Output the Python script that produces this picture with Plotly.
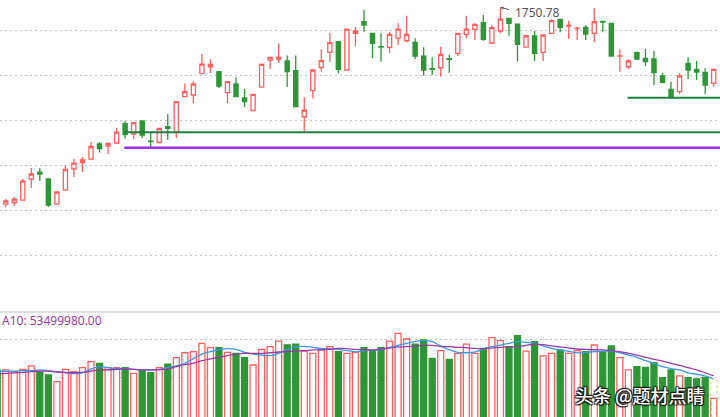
import plotly.graph_objects as go

# OHLC values (85 trading days)
open_ = [1326.7, 1313.3, 1316.7, 1322.2, 1368.9, 1384.4, 1368.9, 1313.3, 1344.4, 1391.1,
         1405.6, 1413.3, 1446.7, 1442.2, 1448.9, 1492.2, 1468.9, 1497.8, 1453.3, 1450.0,
         1485.1, 1473.3, 1551.8, 1555.6, 1603.3, 1618.4, 1607.3, 1560.7, 1580.0, 1548.9,
         1521.1, 1573.3, 1633.3, 1635.6, 1631.1, 1609.6, 1507.3, 1565.1, 1616.7, 1650.4,
         1674.0, 1611.1, 1692.7, 1718.4, 1692.7, 1663.3, 1661.6, 1682.2, 1676.2, 1672.7,
         1642.2, 1614.0, 1616.2, 1636.2, 1648.2, 1690.4, 1701.6, 1716.2, 1671.1, 1697.8,
         1726.0, 1713.3, 1662.2, 1686.7, 1650.4, 1692.7, 1723.8, 1708.9, 1703.3, 1706.0,
         1692.7, 1718.9, 1714.9, 1641.8, 1618.4, 1649.6, 1637.1, 1635.6, 1597.8, 1568.2,
         1562.9, 1626.0, 1612.7, 1606.0, 1581.6]
high = [1331.1, 1324.4, 1328.9, 1368.9, 1393.3, 1393.3, 1368.9, 1340.0, 1400.0, 1413.3,
        1417.8, 1451.1, 1451.1, 1450.0, 1482.2, 1497.8, 1495.6, 1498.9, 1473.3, 1482.2,
        1513.3, 1541.1, 1581.1, 1586.7, 1646.7, 1634.9, 1608.9, 1585.6, 1594.4, 1568.9,
        1557.8, 1625.6, 1640.0, 1670.0, 1643.3, 1643.3, 1550.4, 1612.2, 1657.1, 1694.0,
        1674.4, 1703.3, 1706.7, 1744.4, 1693.3, 1692.7, 1696.2, 1714.9, 1731.8, 1681.6,
        1661.6, 1639.3, 1662.9, 1645.1, 1693.3, 1731.8, 1714.9, 1733.3, 1711.1, 1750.78,
        1726.7, 1714.4, 1690.0, 1697.8, 1689.6, 1724.4, 1724.4, 1720.7, 1707.3, 1711.1,
        1748.2, 1718.9, 1715.6, 1657.1, 1634.9, 1652.2, 1657.8, 1653.3, 1605.1, 1585.1,
        1603.8, 1639.3, 1631.1, 1614.9, 1614.9]
low = [1308.9, 1306.7, 1308.9, 1322.2, 1348.9, 1364.4, 1306.7, 1313.3, 1344.4, 1373.3,
       1384.4, 1413.3, 1427.8, 1424.4, 1448.9, 1458.9, 1457.8, 1460.0, 1440.0, 1450.0,
       1455.6, 1460.0, 1551.1, 1537.8, 1602.2, 1604.4, 1571.1, 1537.8, 1551.1, 1528.9,
       1520.0, 1573.3, 1613.3, 1626.7, 1573.3, 1528.9, 1473.3, 1547.8, 1607.3, 1628.9,
       1603.8, 1610.0, 1663.3, 1695.6, 1637.1, 1629.6, 1648.2, 1666.7, 1672.7, 1635.6,
       1598.5, 1600.0, 1596.2, 1605.1, 1642.2, 1681.6, 1677.8, 1676.2, 1668.2, 1692.7,
       1687.3, 1630.0, 1661.1, 1631.1, 1631.1, 1691.8, 1694.9, 1680.0, 1677.8, 1677.8,
       1672.7, 1694.9, 1641.6, 1607.3, 1613.3, 1633.3, 1620.0, 1577.8, 1581.6, 1548.2,
       1557.8, 1591.1, 1588.9, 1557.8, 1574.0]
close = [1313.3, 1320.0, 1324.4, 1364.4, 1380.0, 1380.0, 1311.1, 1340.0, 1390.0, 1404.4,
         1411.1, 1441.1, 1436.7, 1447.8, 1473.3, 1467.8, 1494.4, 1466.7, 1452.2, 1481.1,
         1481.6, 1540.7, 1562.9, 1580.0, 1624.4, 1623.8, 1575.6, 1585.1, 1552.2, 1540.7,
         1557.1, 1623.8, 1639.3, 1638.9, 1607.8, 1529.6, 1522.2, 1611.1, 1631.8, 1671.8,
         1612.7, 1702.2, 1697.8, 1711.1, 1670.4, 1662.2, 1690.4, 1702.2, 1690.4, 1642.2,
         1611.1, 1612.7, 1646.0, 1634.9, 1692.7, 1702.2, 1712.7, 1679.3, 1705.1, 1724.4,
         1714.9, 1668.2, 1687.3, 1648.2, 1688.9, 1720.7, 1706.0, 1710.0, 1704.0, 1691.1,
         1718.4, 1717.8, 1642.2, 1642.7, 1631.1, 1635.6, 1629.6, 1605.1, 1583.8, 1550.4,
         1597.8, 1611.1, 1606.7, 1577.8, 1612.7]

# volume (millions) and its moving averages
volume = [54.1, 54.1, 53.2, 54.4, 56.2, 52.6, 51.4, 47.9, 54.4, 53.2,
          55.3, 58.5, 57.6, 55.3, 55.3, 55.3, 52.3, 54.1, 52.6, 55.3,
          57.1, 60.6, 63.2, 63.8, 68.2, 65.9, 65.9, 63.4, 62.9, 60.6,
          56.7, 65.0, 66.4, 69.4, 67.3, 67.8, 64.1, 62.9, 64.7, 66.4,
          63.8, 62.9, 63.4, 65.9, 64.3, 65.9, 69.4, 73.5, 70.5, 67.8,
          70.0, 60.2, 64.3, 59.7, 62.9, 67.8, 62.9, 65.5, 71.2, 69.6,
          66.4, 72.3, 64.1, 69.1, 61.5, 62.9, 64.7, 62.9, 64.3, 63.8,
          67.3, 63.8, 66.8, 60.6, 54.1, 55.8, 55.5, 57.9, 50.0, 54.1,
          50.9, 50.0, 49.3, 50.2, 39.0]
ma5 = [53.2, 53.4, 53.5, 53.7, 53.7, 54.1, 53.7, 53.2, 52.6, 52.1,
       52.6, 54.6, 55.8, 55.3, 54.9, 54.8, 54.4, 54.1, 54.1, 54.4,
       55.3, 56.2, 57.6, 60.1, 62.5, 63.8, 64.8, 65.4, 65.0, 63.4,
       62.5, 62.0, 61.7, 62.9, 65.0, 66.4, 66.6, 66.1, 65.5, 65.2,
       65.0, 64.3, 63.8, 64.3, 64.7, 64.7, 66.1, 67.1, 68.2, 69.1,
       69.8, 69.1, 66.8, 64.7, 63.4, 63.2, 63.6, 65.2, 66.4, 67.3,
       68.2, 69.1, 68.7, 68.2, 66.8, 65.5, 64.7, 64.0, 63.2, 63.4,
       63.8, 64.0, 64.1, 63.2, 62.0, 60.8, 59.0, 57.6, 55.8, 54.8,
       54.1, 52.6, 51.8, 50.9, 49.3]
ma10 = [51.9, 52.3, 52.5, 52.8, 53.2, 53.4, 53.5, 53.0, 52.8, 52.6,
        52.8, 53.4, 54.1, 54.2, 54.4, 54.6, 54.4, 54.1, 54.1, 54.2,
        54.6, 55.8, 56.9, 57.6, 59.0, 59.9, 60.8, 61.7, 62.5, 62.9,
        62.9, 62.9, 63.2, 63.6, 63.8, 64.1, 64.3, 64.7, 64.8, 65.2,
        65.5, 65.4, 65.0, 64.7, 64.7, 65.2, 65.7, 66.3, 66.4, 66.8,
        67.1, 67.1, 66.6, 66.4, 66.1, 65.9, 65.5, 65.4, 65.7, 66.1,
        66.3, 66.4, 67.1, 67.8, 67.5, 66.8, 66.3, 65.7, 65.2, 65.0,
        64.8, 64.7, 64.3, 63.8, 62.9, 62.0, 60.8, 59.7, 58.8, 57.6,
        56.5, 55.3, 54.1, 52.6, 50.9]

price_grid = [1200, 1300, 1400, 1500, 1600, 1700]
vol_grid = [50, 70]
support_green = 1472.7
support_purple = 1438.4
support_short = 1549.6
high_label = "1750.78"
ma10_label = "A10: 53499980.00"

days = list(range(len(open_)))
RED = '#ff5f5f'
GREEN = '#2f9638'

fig = go.Figure()

fig.add_trace(go.Candlestick(
    x=days, open=open_, high=high, low=low, close=close,
    increasing=dict(fillcolor='white', line=dict(color=RED, width=1.3)),
    decreasing=dict(fillcolor=GREEN, line=dict(color=GREEN, width=1.3)),
    whiskerwidth=0, xaxis='x', yaxis='y', showlegend=False, hoverinfo='skip'
))

up = [c >= o for o, c in zip(open_, close)]
fig.add_trace(go.Bar(
    x=days, y=volume, width=0.7,
    marker=dict(color=['white' if u else GREEN for u in up],
                line=dict(color=[RED if u else GREEN for u in up], width=1.3)),
    xaxis='x', yaxis='y2', showlegend=False, hoverinfo='skip'
))
fig.add_trace(go.Scatter(
    x=days, y=ma5, mode='lines', line=dict(color='#3c9be0', width=1.3, shape='spline'),
    xaxis='x', yaxis='y2', showlegend=False, hoverinfo='skip'
))
fig.add_trace(go.Scatter(
    x=days, y=ma10, mode='lines', line=dict(color='#9c3aa8', width=1.3, shape='spline'),
    xaxis='x', yaxis='y2', showlegend=False, hoverinfo='skip'
))

# support lines
fig.add_shape(type='line', xref='x', yref='y', x0=14.9, x1=86, y0=support_green, y1=support_green,
              line=dict(color='#1f7f3e', width=2))
fig.add_shape(type='line', xref='x', yref='y', x0=14.9, x1=86, y0=support_purple, y1=support_purple,
              line=dict(color='#9a30f0', width=2.5))
fig.add_shape(type='line', xref='x', yref='y', x0=73.9, x1=86, y0=support_short, y1=support_short,
              line=dict(color='#1f7f3e', width=2))

# panel separator
fig.add_shape(type='line', xref='paper', yref='paper', x0=0, x1=1, y0=0.2518, y1=0.2518,
              line=dict(color='#d4d4d4', width=1.5))

# cursor box on the last bar
fig.add_shape(type='rect', xref='x', yref='y2', x0=83.6, x1=84.4, y0=29.0, y1=49.3,
              line=dict(color='#d9c96a', width=1, dash='dot'))

# high marker
fig.add_annotation(x=59, y=1750.78, xref='x', yref='y', text='', showarrow=True,
                   ax=10, ay=3, arrowhead=2, arrowsize=0.6, arrowwidth=1, arrowcolor='#555')
fig.add_annotation(x=60.5, y=1738.4, xref='x', yref='y', text=high_label, showarrow=False,
                   xanchor='left', yanchor='middle',
                   font=dict(family='Noto Sans', size=12, color='#555'))

fig.add_annotation(x=0, y=1 - 320.5 / 417, xref='paper', yref='paper', text=ma10_label,
                   showarrow=False, xanchor='left', yanchor='middle',
                   font=dict(family='Noto Sans', size=12, color='#9c3aa8'))

fig.add_annotation(x=707 / 720, y=1 - 395 / 417, xref='paper', yref='paper', text='头条 @题材点睛',
                   showarrow=False, xanchor='right', yanchor='middle',
                   font=dict(family='Noto Sans CJK SC', size=18, color='white', weight=500,
                             shadow='1px 1px 1px #111, -1px -1px 1px #111, 1px -1px 1px #111, -1px 1px 1px #111'))

fig.update_layout(
    width=720, height=417,
    margin=dict(l=0, r=0, t=0, b=0),
    paper_bgcolor='white', plot_bgcolor='white',
    xaxis=dict(range=[0.33, 84.74], showgrid=False, zeroline=False, showticklabels=False,
               rangeslider=dict(visible=False), fixedrange=True),
    yaxis=dict(domain=[0.2542, 1], range=[1075.6, 1766.7], tickvals=price_grid,
               showticklabels=False, gridcolor='#c4c4c4', griddash='2px,3px', gridwidth=1,
               zeroline=False),
    yaxis2=dict(domain=[0, 0.2518], range=[29.15, 84.8], tickvals=vol_grid,
                showticklabels=False, gridcolor='#c4c4c4', griddash='2px,3px', gridwidth=1,
                zeroline=False),
    bargap=0.3,
)

# page body margin would shift the plot
fig.write_html("out.html", config={'displayModeBar': False},
               post_script="document.body.style.margin='0';")
